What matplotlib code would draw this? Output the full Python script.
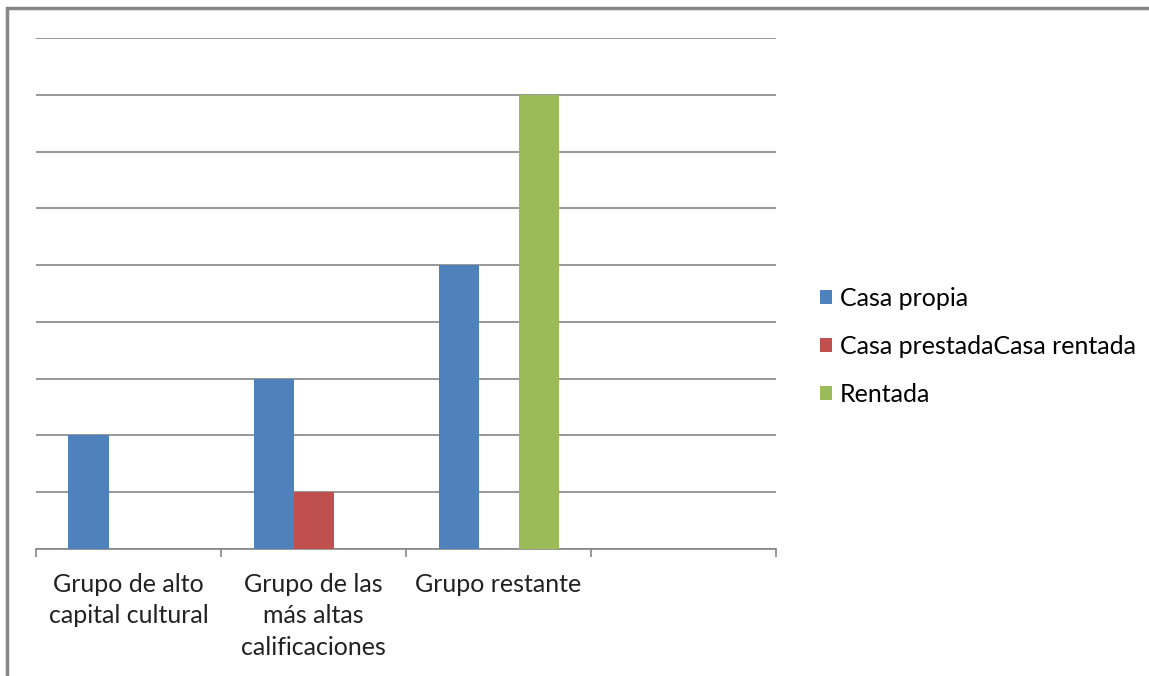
import numpy as np
import matplotlib.pyplot as plt
from matplotlib.patches import Rectangle

# Datos del gráfico
categorias = ['Grupo de alto\ncapital cultural', 'Grupo de las\nmás altas\ncalificaciones',
              'Grupo restante', '']
series = ['Casa propia', 'Casa prestadaCasa rentada', 'Rentada']
casa_propia = [2, 3, 5, 0]
casa_prestada = [0, 1, 0, 0]
rentada = [0, 0, 8, 0]

colores = ['#4F81BD', '#C0504D', '#9BBB59']
plt.rcParams['font.family'] = ['Lato', 'DejaVu Sans']

fig = plt.figure(figsize=(11.49, 6.76), dpi=100)
ax = fig.add_axes([36 / 1149, 127 / 676, 740 / 1149, 511 / 676])

x = np.arange(len(categorias))
ancho = 40 / 185
valores = [casa_propia, casa_prestada, rentada]
for i, (nombre, vals) in enumerate(zip(series, valores)):
    ax.bar(x + (i - 1) * ancho, vals, width=ancho, color=colores[i], label=nombre, zorder=3)

ax.set_xlim(-0.5, len(categorias) - 0.5)
ax.set_ylim(0, 9)
ax.set_yticks(np.arange(0, 10))
ax.yaxis.grid(True, color='#868686', linewidth=1.2, zorder=0)
ax.tick_params(axis='y', left=False, labelleft=False)

ax.set_xticks(x)
ax.set_xticklabels(categorias, fontsize=18, color='#222222', linespacing=1.45)
ax.set_xticks(np.arange(-0.5, len(categorias)), minor=True)
ax.tick_params(axis='x', which='major', length=0, pad=17)
ax.tick_params(axis='x', which='minor', length=6, color='#868686', width=1.2)
for lbl in ax.get_xticklabels():
    lbl.set_verticalalignment('top')

for s in ['top', 'right', 'left']:
    ax.spines[s].set_visible(False)
ax.spines['bottom'].set_color('#868686')
ax.spines['bottom'].set_linewidth(1.2)

ax.legend(loc='center left', bbox_to_anchor=(807 / 1149, 330 / 676), bbox_transform=fig.transFigure,
          frameon=False, fontsize=18, handlelength=0.5, handleheight=0.5, handletextpad=0.3,
          labelspacing=1.0, borderpad=0)

# Marco del gráfico
fig.patches.append(Rectangle((7 / 1149, -0.1), 1.2, (676 - 8) / 676 + 0.1, transform=fig.transFigure,
                             fill=False, edgecolor='#878787', linewidth=2.5))

plt.savefig('out.png', dpi=100)
